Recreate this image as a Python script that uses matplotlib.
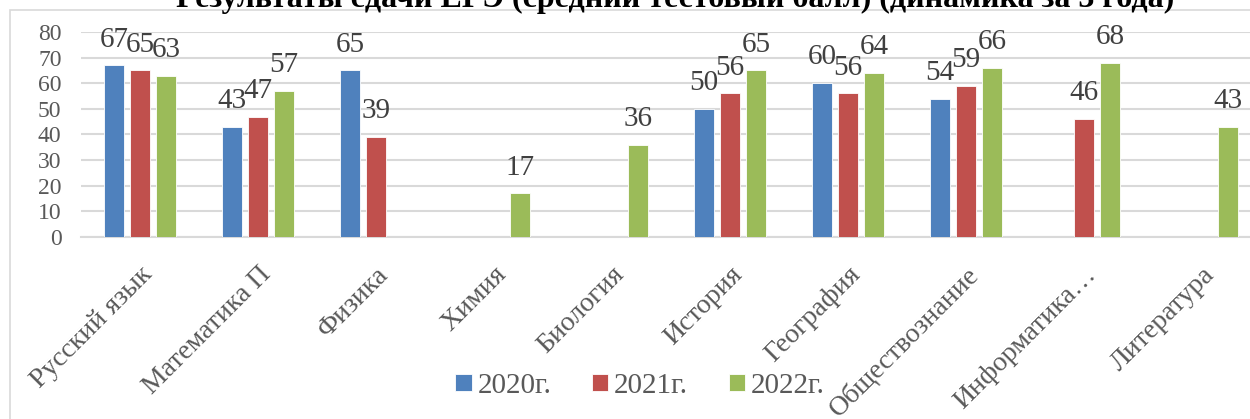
import numpy as np
import matplotlib
matplotlib.use("Agg")
import matplotlib.pyplot as plt
from matplotlib.patches import Rectangle

# Subjects and mean test scores per year (NaN = subject not taken that year)
subjects = ["Русский язык", "Математика П", "Физика", "Химия", "Биология",
            "История", "География", "Обществознание", "Информатика…", "Литература"]
years = ["2020г.", "2021г.", "2022г."]
scores_2020 = [67, 43, 65, np.nan, np.nan, 50, 60, 54, np.nan, np.nan]
scores_2021 = [65, 47, 39, np.nan, np.nan, 56, 56, 59, 46, np.nan]
scores_2022 = [63, 57, np.nan, 17, 36, 65, 64, 66, 68, 43]
y_ticks = [0, 10, 20, 30, 40, 50, 60, 70, 80]

title = "Результаты сдачи ЕГЭ (средний тестовый балл) (динамика за 3 года)"
colors = ["#4F81BD", "#C0504D", "#9BBB59"]

plt.rcParams["font.family"] = ["Liberation Serif", "DejaVu Serif"]

W, H = 1250, 419
fig = plt.figure(figsize=(W / 100, H / 100), dpi=100)

# chart frame (runs off the right and bottom edge like the crop)
fig.patches.append(Rectangle((10 / W, -0.1), 1.2, 1 - 10 / H + 0.1,
                             transform=fig.transFigure, fill=False,
                             edgecolor="#D9D9D9", linewidth=1.2))

# plot area in pixels: x 81..1261, y 32..237
ax = fig.add_axes([81 / W, 1 - 237 / H, (1261 - 81) / W, (237 - 32) / H])

x = np.arange(len(subjects))
width = 0.172
offset = 0.22
series = [scores_2020, scores_2021, scores_2022]

for i, (vals, col, lab) in enumerate(zip(series, colors, years)):
    pos = x + (i - 1) * offset
    ax.bar(pos, vals, width, color=col, label=lab,
           edgecolor="white", linewidth=0.6, zorder=3)
    for px, v in zip(pos, vals):
        if np.isnan(v):
            continue
        ax.annotate(f"{v:.0f}", (px, v), xytext=(0, 13.5),
                    textcoords="offset points", ha="center", va="baseline",
                    fontsize=21, color="#404040", zorder=4)

ax.set_xlim(-0.5, len(subjects) - 0.5)
ax.set_ylim(0, 80)
ax.set_yticks(y_ticks)
ax.yaxis.grid(True, color="#D9D9D9", linewidth=1.5, zorder=0)
ax.set_axisbelow(True)
for s in ["top", "right", "left"]:
    ax.spines[s].set_visible(False)
ax.spines["bottom"].set_color("#D9D9D9")
ax.spines["bottom"].set_linewidth(1.5)

ax.tick_params(axis="y", length=0, pad=14, labelsize=17, labelcolor="#595959")
ax.tick_params(axis="x", length=0, pad=18, labelsize=20, labelcolor="#595959")
ax.set_xticks(x)
ax.set_xticklabels(subjects, rotation=45, ha="right", rotation_mode="anchor")

leg = fig.legend(loc="center", bbox_to_anchor=(640 / W, 1 - 386 / H), ncol=3,
                 frameon=False, fontsize=21, handlelength=0.55, handleheight=0.55,
                 handletextpad=0.2, columnspacing=1.4, borderaxespad=0)
for t in leg.get_texts():
    t.set_color("#595959")

fig.text(675 / W, 1 - 7 / H, title, ha="center", va="baseline",
         fontsize=23, fontweight="bold", color="black")

fig.savefig("out.png", dpi=100)
